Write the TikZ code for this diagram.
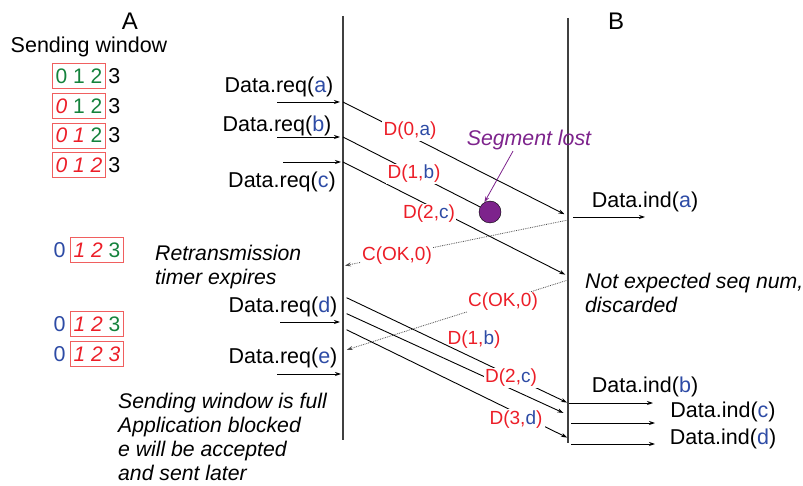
\documentclass[tikz,border=0pt]{standalone}
\usepackage{fontspec}
\setmainfont{Liberation Sans}
\usepackage{xcolor}
\usepackage{tikz}
\usetikzlibrary{arrows.meta, positioning}

\definecolor{segred}{RGB}{236,30,40}
\definecolor{segblue}{RGB}{45,75,165}
\definecolor{seggreen}{RGB}{20,130,60}
\definecolor{segpurple}{RGB}{125,35,140}
\definecolor{boxred}{RGB}{240,95,95}

\begin{document}
\begin{tikzpicture}[
    x=1pt, y=-1pt,
    big/.style={font=\fontsize{24}{28}\selectfont, inner sep=0pt},
    lbl/.style={font=\fontsize{21.5}{25}\selectfont, inner sep=1pt},
    note/.style={font=\fontsize{21.2}{24}\selectfont\itshape, align=left, inner sep=0pt, anchor=north west},
    seg/.style={font=\fontsize{19}{22}\selectfont, text=segred, fill=white, inner sep=1.5pt},
    win/.style={draw=boxred, thick, font=\fontsize{21}{25}\selectfont, inner xsep=3.5pt, inner ysep=0pt, minimum height=25pt},
    dot/.style={circle, draw, fill=segpurple, minimum size=22pt, inner sep=0pt},
    life/.style={line width=1.3pt, black!75},
    arrow/.style={-{Stealth[length=6pt, width=4pt]}, line width=0.9pt},
    ack/.style={-{Stealth[length=6pt, width=4pt]}, line width=0.8pt, densely dotted, black!70}
]
    \useasboundingbox (0,0) rectangle (803,486);

    % Life lines
    \coordinate (Atop) at (343,16);
    \coordinate (Abot) at (343,440);
    \coordinate (Btop) at (568,18);
    \coordinate (Bbot) at (568,443);
    \draw[life] (Atop) -- (Abot);
    \draw[life] (Btop) -- (Bbot);
    \node[big] (hA) at (130,21) {A};
    \node[big] (hB) at (616,21) {B};

    % Sending window
    \node[lbl] (swin) at (89,47) {Sending window};
    \node[win] (w1) at (79,76) {\textcolor{seggreen}{0 1 2}};
    \node[lbl, right=1pt of w1] (w1n) {3};
    \node[win, below=4pt of w1] (w2) {\textcolor{segred}{\textit{0}} \textcolor{seggreen}{1 2}};
    \node[lbl, right=1pt of w2] (w2n) {3};
    \node[win, below=4pt of w2] (w3) {\textcolor{segred}{\textit{0 1}} \textcolor{seggreen}{2}};
    \node[lbl, right=1pt of w3] (w3n) {3};
    \node[win, below=4pt of w3] (w4) {\textcolor{segred}{\textit{0 1 2}}};
    \node[lbl, right=1pt of w4] (w4n) {3};

    \node[win] (w5) at (97,250) {\textcolor{segred}{\textit{1 2}} \textcolor{seggreen}{3}};
    \node[lbl, left=3pt of w5] (w5z) {\textcolor{segblue}{0}};
    \node[win] (w6) at (97,324) {\textcolor{segred}{\textit{1 2}} \textcolor{seggreen}{3}};
    \node[lbl, left=3pt of w6] (w6z) {\textcolor{segblue}{0}};
    \node[win, below=4pt of w6] (w7) {\textcolor{segred}{\textit{1 2 3}}};
    \node[lbl, left=3pt of w7] (w7z) {\textcolor{segblue}{0}};

    % Requests
    \node[lbl] (reqa) at (279,87) {Data.req(\textcolor{segblue}{a})};
    \node[lbl] (reqb) at (277,126) {Data.req(\textcolor{segblue}{b})};
    \node[lbl] (reqc) at (282,182) {Data.req(\textcolor{segblue}{c})};
    \node[lbl] (reqd) at (283,307) {Data.req(\textcolor{segblue}{d})};
    \node[lbl] (reqe) at (283,358) {Data.req(\textcolor{segblue}{e})};
    \coordinate (ra) at (277,102);
    \coordinate (rb) at (277,137);
    \coordinate (rc) at (283,162);
    \coordinate (rd) at (280,322);
    \coordinate (re) at (277,374);
    \draw[arrow, shorten >=3pt] (ra) -- (ra -| Atop);
    \draw[arrow, shorten >=3pt] (rb) -- (rb -| Atop);
    \draw[arrow, shorten >=2pt] (rc) -- (rc -| Atop);
    \draw[arrow, shorten >=3pt] (rd) -- (rd -| Atop);
    \draw[arrow, shorten >=2pt] (re) -- (re -| Atop);

    % First segments
    \node[dot] (lost) at (490,212) {};
    \coordinate (ba) at (568,216);
    \coordinate (bc) at (568,276);
    \draw[arrow, shorten >=4pt] (ra -| Atop) -- (ba);
    \draw[line width=0.9pt] (rb -| Atop) -- (lost);
    \draw[arrow, shorten >=3pt] (rc -| Atop) -- (bc);

    % Acks
    \coordinate (bk1) at (568,220);
    \coordinate (ak1) at (343,266);
    \coordinate (bk2) at (568,280);
    \coordinate (ak2) at (343,351);
    \draw[ack, shorten >=2pt] (bk1) -- (ak1);
    \draw[ack, shorten >=4pt] (bk2) -- (ak2);

    % Retransmitted segments
    \coordinate (sb) at (343,296);
    \coordinate (sc) at (343,312);
    \coordinate (sd) at (343,328);
    \coordinate (eb) at (568,403);
    \coordinate (ec) at (568,415);
    \coordinate (ed) at (568,438);
    \draw[arrow, shorten <=4pt, shorten >=1pt] (sb) -- (eb);
    \draw[arrow, shorten <=4pt, shorten >=5pt] (sc) -- (ec);
    \draw[arrow, shorten <=4pt, shorten >=1pt] (sd) -- (ed);

    % Segment labels
    \node[seg] (l0a) at (410,131) {D(0,\textcolor{segblue}{a})};
    \node[seg] (l1b) at (414,174) {D(1,\textcolor{segblue}{b})};
    \node[seg] (l2c) at (429,214) {D(2,\textcolor{segblue}{c})};
    \node[seg] (lok1) at (397,256) {C(OK,0)};
    \node[seg] (lok2) at (503,302) {C(OK,0)};
    \node[seg, fill=none] (r1b) at (474,340) {D(1,\textcolor{segblue}{b})};
    \node[seg] (r2c) at (511,378) {D(2,\textcolor{segblue}{c})};
    \node[seg, inner sep=2.5pt] (r3d) at (516,420) {D(3,\textcolor{segblue}{d})};

    % Segment lost
    \node[lbl, font=\fontsize{21.3}{25}\selectfont\itshape, text=segpurple] (seglost) at (529,140) {Segment lost};
    \draw[-{Stealth[length=6pt, width=4pt]}, segpurple, line width=0.8pt] ([xshift=-16pt]seglost.south) -- (lost.120);

    % Indications
    \node[lbl] (inda) at (645,202) {Data.ind(\textcolor{segblue}{a})};
    \node[lbl] (indb) at (645,387) {Data.ind(\textcolor{segblue}{b})};
    \node[lbl] (indc) at (723,412) {Data.ind(\textcolor{segblue}{c})};
    \node[lbl] (indd) at (723,439) {Data.ind(\textcolor{segblue}{d})};
    \coordinate (ia1) at (573,217);
    \coordinate (ia2) at (645,217);
    \coordinate (ib1) at (569,403);
    \coordinate (ib2) at (653,403);
    \coordinate (ic1) at (571,423);
    \coordinate (ic2) at (655,423);
    \coordinate (id1) at (571,444);
    \coordinate (id2) at (655,444);
    \draw[arrow] (ia1) -- (ia2);
    \draw[arrow] (ib1) -- (ib2);
    \draw[arrow] (ic1) -- (ic2);
    \draw[arrow] (id1) -- (id2);

    % Notes
    \node[note] (retx) at (155,245) {Retransmission\\timer expires};
    \node[note] (nexp) at (585,273) {Not expected seq num,\\discarded};
    \node[note] (full) at (118,393) {Sending window is full\\Application blocked\\e will be accepted\\and sent later};

\end{tikzpicture}
\end{document}
